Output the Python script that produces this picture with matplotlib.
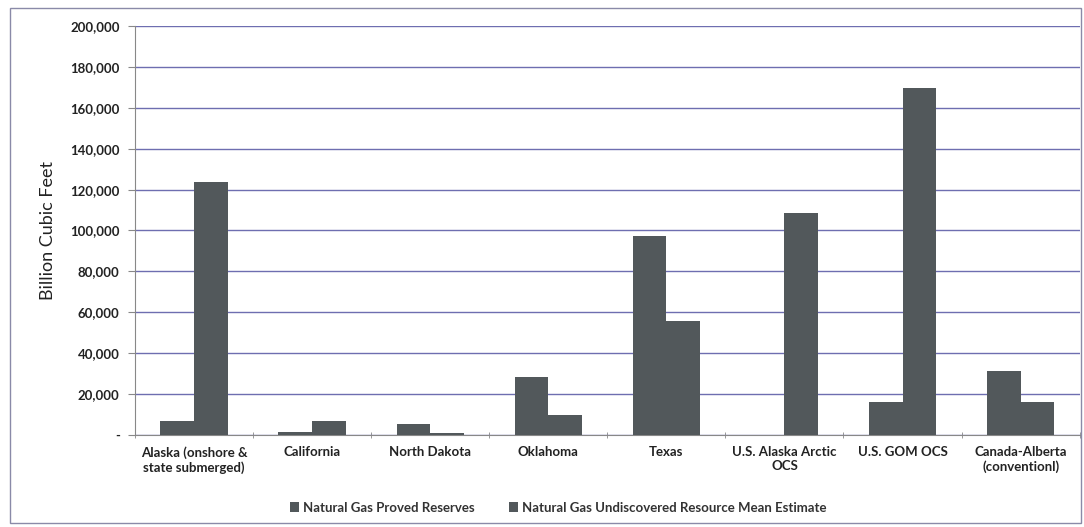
import numpy as np
import matplotlib.pyplot as plt
from matplotlib.ticker import FuncFormatter

# Natural gas reserves and resources by region (billion cubic feet)
regions = ["Alaska (onshore &\nstate submerged)", "California", "North Dakota",
           "Oklahoma", "Texas", "U.S. Alaska Arctic\nOCS", "U.S. GOM OCS",
           "Canada-Alberta\n(conventionl)"]
proved = [7000, 1500, 5500, 28500, 97500, 0, 16000, 31500]
undiscovered = [123500, 7000, 1200, 10000, 55500, 108500, 169500, 16000]

plt.rcParams['font.family'] = ['Lato', 'DejaVu Sans']

fig = plt.figure(figsize=(10.84, 5.27), dpi=100)
ax = fig.add_axes([0.1245, 0.1746, 0.8715, 0.7761])

bar_color = "#52585b"
grid_color = "#6e6eb0"
w = 0.285
x = np.arange(len(regions))
ax.bar(x - w / 2, proved, w, color=bar_color, label="Natural Gas Proved Reserves", zorder=3)
ax.bar(x + w / 2, undiscovered, w, color=bar_color,
       label="Natural Gas Undiscovered Resource Mean Estimate", zorder=3)

ax.set_xlim(-0.5, len(regions) - 0.5)
ax.set_ylim(0, 200000)
ax.set_yticks(np.arange(0, 200001, 20000))
ax.yaxis.set_major_formatter(FuncFormatter(lambda v, p: "-" if v == 0 else f"{int(v):,}"))
ax.yaxis.grid(True, color=grid_color, linewidth=1.0, zorder=0)

# category labels centred, tick marks on the boundaries
ax.set_xticks(x)
ax.set_xticklabels(regions, fontsize=9.5, fontweight='bold', color="#222222")
ax.set_xticks(np.arange(-0.5, len(regions)), minor=True)
ax.tick_params(axis='x', which='major', length=0, pad=8)
ax.tick_params(axis='x', which='minor', length=5, direction='inout', color="#888888")
ax.tick_params(axis='y', length=5, color="#888888", labelsize=9.5, pad=6)
for lab in ax.get_yticklabels():
    lab.set_fontweight('bold')
    lab.set_color("#222222")

for side in ["top", "right"]:
    ax.spines[side].set_visible(False)
ax.spines["left"].set_color("#888888")
ax.spines["bottom"].set_color("#888888")

ax.set_ylabel("Billion Cubic Feet", fontsize=13, labelpad=10, color="#222222")

leg = fig.legend(loc="lower center", bbox_to_anchor=(0.515, 0.003), ncol=2, frameon=False,
                 fontsize=9.5, handlelength=0.7, handleheight=0.7, handletextpad=0.3,
                 columnspacing=2.6)
for t in leg.get_texts():
    t.set_fontweight('bold')
    t.set_color("#333333")

# outer frame
fig.patches.append(plt.Rectangle((0.009, 0.008), 0.988, 0.977, transform=fig.transFigure,
                                 fill=False, edgecolor="#8a8aa8", linewidth=1.0))

fig.savefig("out.png", dpi=100)
